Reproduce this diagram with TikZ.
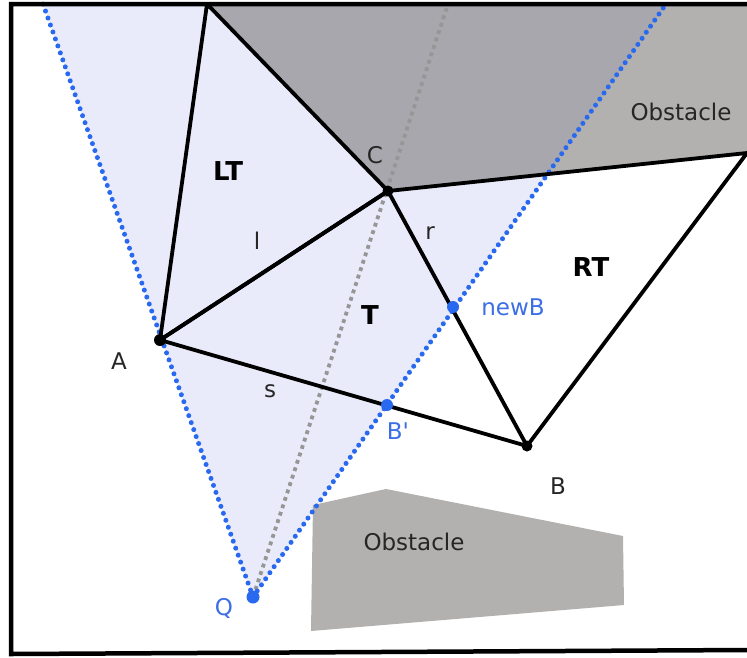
\documentclass[tikz,border=0pt]{standalone}
\usepackage{fontspec}
\setmainfont{DejaVu Sans}
\definecolor{obstdark}{RGB}{103,101,97}
\definecolor{conefill}{RGB}{233,235,250}
\definecolor{dotblue}{RGB}{40,105,240}
\definecolor{lblblue}{RGB}{60,110,230}
\definecolor{graydot}{RGB}{150,150,150}
\tikzset{
  edge/.style={line width=3.8pt, line join=round, line cap=round},
  bluedots/.style={dotblue, line width=5pt, line cap=round, dash pattern=on 0pt off 7.4pt},
  graydots/.style={graydot, line width=3.8pt, dash pattern=on 3.8pt off 4pt},
  obstacle/.style={fill=obstdark, fill opacity=0.5},
  lbl/.style={font=\fontsize{23}{23}\selectfont, text=black!85, inner sep=0pt},
  blbl/.style={font=\fontsize{23}{23}\selectfont, text=lblblue, inner sep=0pt},
  tlbl/.style={font=\fontsize{26}{26}\selectfont\bfseries, inner sep=0pt},
}
\begin{document}
\begin{tikzpicture}[x=1pt,y=-1pt]
\useasboundingbox (0,0) rectangle (747,657);
\fill[white] (0,0) rectangle (747,657);
% points
\coordinate (A) at (160,340);
\coordinate (C) at (388,191);
\coordinate (B) at (527,446);
\coordinate (Top) at (207,4);
\coordinate (R) at (747,153);
\coordinate (TR) at (747,4);
\coordinate (Q) at (253,597);
\coordinate (CL) at (43,4);
\coordinate (CR) at (666,4);
\coordinate (G) at (448,4);
\coordinate (newB) at (453,307);
\coordinate (Bp) at (387,405);
% cone
\fill[conefill] (Q) -- (CL) -- (CR) -- cycle;
% obstacles
\path[obstacle] (Top) -- (C) -- (R) -- (TR) -- cycle;
\path[obstacle] (313,505) -- (386,489) -- (623,536) -- (624,605) -- (311,631) -- cycle;
% rays
\draw[graydots] (Q) -- (G);
\draw[bluedots] (Q) -- (CL);
\draw[bluedots] (Q) -- (CR);
% triangles
\draw[edge] (A) -- (Top) -- (C) -- cycle;
\draw[edge] (A) -- (C) -- (B) -- cycle;
\draw[edge] (C) -- (R) -- (B);
% frame
\draw[line width=4.5pt] (747,4) -- (11,4) -- (11,654) -- (747,650);
% dots
\fill (A) circle (6);
\fill (C) circle (5.5);
\fill (B) circle (5.5);
\fill[dotblue] (newB) circle (6);
\fill[dotblue] (Bp) circle (6);
\fill[dotblue] (Q) circle (6.5);
% labels
\node[tlbl] (tLT) at (228,171) {LT};
\node[tlbl] (tT) at (370,315) {T};
\node[tlbl] (tRT) at (591,267) {RT};
\node[lbl] (lC) at (375,155) {C};
\node[lbl] (ll) at (257,241) {l};
\node[lbl] (lr) at (430,233) {r};
\node[lbl] (ls) at (270,391) {s};
\node[lbl] (lA) at (119,361) {A};
\node[lbl] (lB) at (558,486) {B};
\node[blbl] (lnewB) at (513,307) {newB};
\node[blbl] (lBp) at (398,431) {B\textquotesingle};
\node[blbl] (lQ) at (224,608) {Q};
\node[lbl] (ob1) at (681,112) {Obstacle};
\node[lbl] (ob2) at (414,542) {Obstacle};
\end{tikzpicture}
\end{document}
